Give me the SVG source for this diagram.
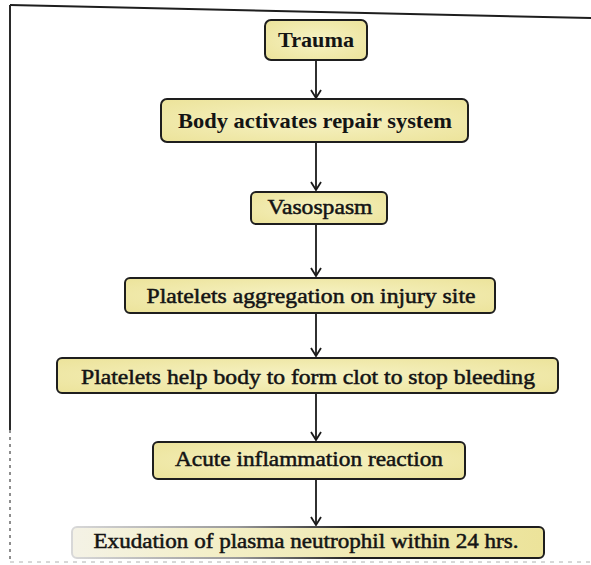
<svg xmlns="http://www.w3.org/2000/svg" width="591" height="565" viewBox="0 0 591 565">
<style>
.box{fill:url(#yel);stroke:#1e1e1e;stroke-width:2}
text{font-family:"Liberation Serif","DejaVu Serif",serif;font-size:21px;fill:#141414;text-anchor:middle}
.b{font-weight:bold}
.m{stroke:#141414;stroke-width:0.5}
.c{stroke:#1a1a1a;stroke-width:1.8;fill:none}
</style>
<defs>
<radialGradient id="yel" cx="0.5" cy="0.5" r="0.7">
<stop offset="0" stop-color="#f6f2c4"/>
<stop offset="1" stop-color="#ece39a"/>
</radialGradient>
<linearGradient id="fade" x1="0" y1="0" x2="1" y2="0">
<stop offset="0" stop-color="#f4f2e6"/>
<stop offset="0.3" stop-color="#f3efc8"/>
<stop offset="1" stop-color="#ece39a"/>
</linearGradient>
<linearGradient id="fadeS" x1="0" y1="0" x2="1" y2="0">
<stop offset="0" stop-color="#d8d8d8"/>
<stop offset="0.35" stop-color="#9a9a9a"/>
<stop offset="0.6" stop-color="#1e1e1e"/>
<stop offset="1" stop-color="#1e1e1e"/>
</linearGradient>
<marker id="ah" viewBox="0 0 10 12" refX="9" refY="6" markerWidth="10" markerHeight="12" markerUnits="userSpaceOnUse" orient="auto">
<path d="M1,1 L9,6 L1,11" fill="none" stroke="#1a1a1a" stroke-width="1.8"/>
</marker>
</defs>
<rect width="591" height="565" fill="#ffffff"/>
<g id="frame" fill="none">
<line x1="10" y1="5" x2="591" y2="18" stroke="#1e1e1e" stroke-width="2"/>
<line x1="10" y1="5" x2="10" y2="430" stroke="#2a2a2a" stroke-width="2"/>
<line x1="10" y1="430" x2="10" y2="560" stroke="#6a6a6a" stroke-width="1.5" stroke-dasharray="3 4"/>
<line x1="10" y1="562" x2="591" y2="562" stroke="#b0b0b0" stroke-width="1" stroke-dasharray="4 5"/>
</g>
<g id="connectors">
<line class="c" x1="316" y1="60" x2="316" y2="98" marker-end="url(#ah)"/>
<line class="c" x1="316" y1="142" x2="316" y2="190" marker-end="url(#ah)"/>
<line class="c" x1="316" y1="224" x2="316" y2="276" marker-end="url(#ah)"/>
<line class="c" x1="316" y1="313" x2="316" y2="356" marker-end="url(#ah)"/>
<line class="c" x1="316" y1="393" x2="316" y2="440" marker-end="url(#ah)"/>
<line class="c" x1="316" y1="479" x2="316" y2="525" marker-end="url(#ah)"/>
</g>
<g id="trauma">
<rect class="box" x="265" y="20" width="102" height="40" rx="6"/>
<text class="b" x="316" y="47" font-size="22" textLength="76" lengthAdjust="spacingAndGlyphs">Trauma</text>
</g>
<g id="body">
<rect class="box" x="161" y="99" width="307" height="43" rx="6"/>
<text class="b" x="315" y="128" font-size="22" textLength="274" lengthAdjust="spacingAndGlyphs">Body activates repair system</text>
</g>
<g id="vasospasm">
<rect class="box" x="251" y="192" width="136" height="32" rx="5"/>
<text class="m" x="320" y="214" textLength="105" lengthAdjust="spacingAndGlyphs">Vasospasm</text>
</g>
<g id="aggregation">
<rect class="box" x="125" y="278" width="370" height="35" rx="5"/>
<text class="m" x="311" y="303" textLength="329" lengthAdjust="spacingAndGlyphs">Platelets aggregation on injury site</text>
</g>
<g id="clot">
<rect class="box" x="57" y="358" width="501" height="35" rx="5"/>
<text class="m" x="308" y="384" font-size="22" textLength="454" lengthAdjust="spacingAndGlyphs">Platelets help body to form clot to stop bleeding</text>
</g>
<g id="inflammation">
<rect class="box" x="153" y="442" width="312" height="37" rx="5"/>
<text class="m" x="309" y="466" textLength="268" lengthAdjust="spacingAndGlyphs">Acute inflammation reaction</text>
</g>
<g id="exudation">
<rect x="72" y="527" width="472" height="31" rx="5" fill="url(#fade)" stroke="url(#fadeS)" stroke-width="2"/>
<text class="m" x="306" y="548" textLength="425" lengthAdjust="spacingAndGlyphs">Exudation of plasma neutrophil within 24 hrs.</text>
</g>
</svg>
